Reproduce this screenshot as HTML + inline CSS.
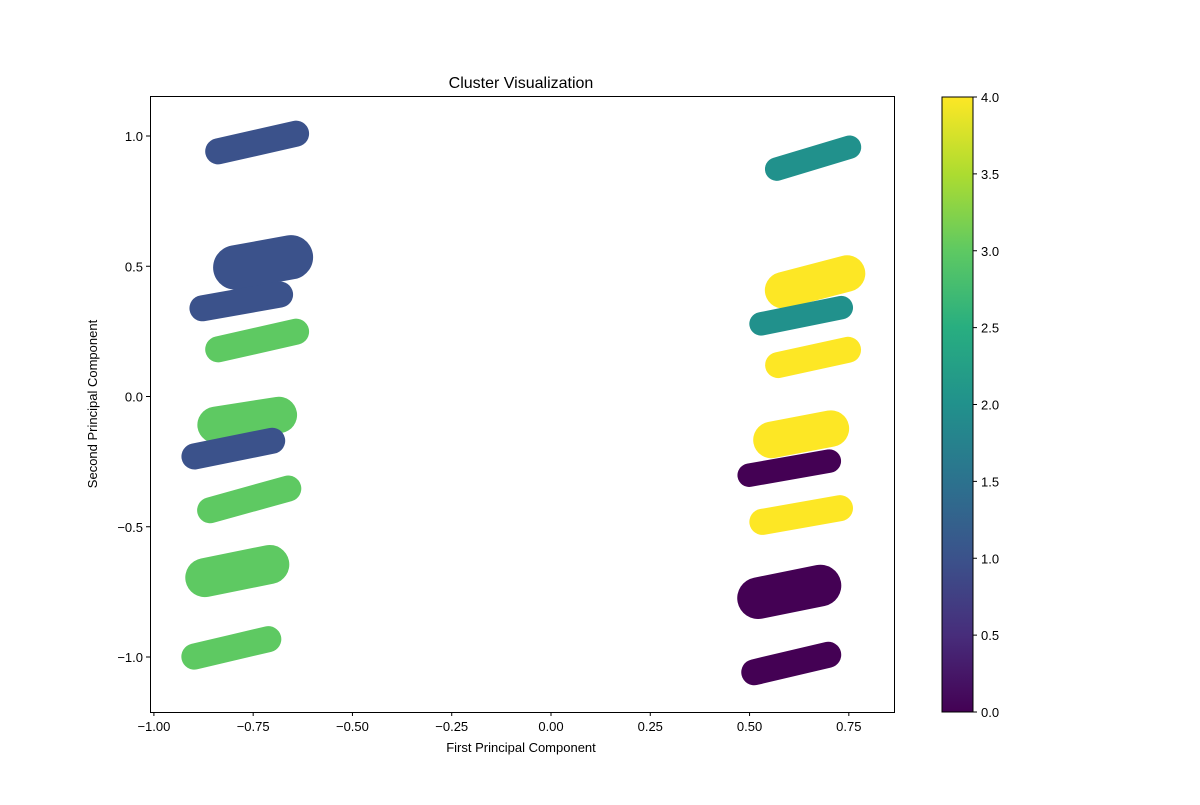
<!DOCTYPE html>
<html><head><meta charset="utf-8"><style>
body{margin:0;background:#fff;font-family:"Liberation Sans",sans-serif}
</style></head><body>
<svg id="chart" width="1200" height="800" xmlns="http://www.w3.org/2000/svg" font-family="Liberation Sans, sans-serif">
<defs><linearGradient id="vir" x1="0" y1="1" x2="0" y2="0">
<stop offset="0" stop-color="#440154"/><stop offset="0.125" stop-color="#472d7b"/><stop offset="0.25" stop-color="#3b528b"/><stop offset="0.375" stop-color="#2c728e"/><stop offset="0.5" stop-color="#21918c"/><stop offset="0.625" stop-color="#28ae80"/><stop offset="0.75" stop-color="#5ec962"/><stop offset="0.875" stop-color="#addc30"/><stop offset="1" stop-color="#fde725"/>
</linearGradient></defs>
<g id="marks"></g>
<rect x="150.5" y="96.5" width="744" height="616" fill="none" stroke="#000" stroke-width="1"/>
<g id="axes"></g>
<text x="521" y="88" font-size="16" text-anchor="middle">Cluster Visualization</text>
<text x="521" y="752" font-size="13" text-anchor="middle">First Principal Component</text>
<text x="97" y="404" font-size="13" text-anchor="middle" transform="rotate(-90 97 404)">Second Principal Component</text>
<rect x="942" y="97" width="31" height="615" fill="url(#vir)" stroke="#000" stroke-width="1"/>
<g id="cbticks"></g>
</svg>
<script>
const x1s=[-0.87,-0.85,-0.91,-0.87,-0.89,-0.93,-0.89,-0.92,-0.93, 0.54,0.54,0.50,0.54,0.51,0.47,0.50,0.47,0.48];
const y1s=[0.93,0.48,0.33,0.17,-0.12,-0.24,-0.45,-0.71,-1.01, 0.86,0.39,0.27,0.11,-0.18,-0.31,-0.49,-0.79,-1.07];
const x2s=[-0.61,-0.60,-0.65,-0.61,-0.64,-0.67,-0.63,-0.66,-0.68, 0.78,0.79,0.76,0.78,0.75,0.73,0.76,0.73,0.73];
const y2s=[1.02,0.55,0.40,0.26,-0.06,-0.16,-0.34,-0.63,-0.92, 0.97,0.49,0.35,0.19,-0.11,-0.24,-0.42,-0.71,-0.98];
const spread=[0.10,0.17,0.10,0.10,0.14,0.10,0.10,0.15,0.10, 0.09,0.14,0.09,0.10,0.14,0.09,0.10,0.16,0.10];
const labels=[1,1,1,3,3,1,3,3,3, 2,4,2,4,4,0,4,0,0];
const xTicks=[-1.00,-0.75,-0.50,-0.25,0.00,0.25,0.50,0.75];
const yTicks=[1.0,0.5,0.0,-0.5,-1.0];
const cbTicks=[0.0,0.5,1.0,1.5,2.0,2.5,3.0,3.5,4.0];
const colors=["#440154","#3b528b","#21918c","#5ec962","#fde725"];
const NS="http://www.w3.org/2000/svg";
const sx=v=>551+v*397.1, sy=v=>396.5-v*260.5, cy=v=>712-v*(615/4);
const marks=document.getElementById('marks');
for(let i=0;i<x1s.length;i++){
 const w=spread[i]*260.5;
 let ax1=sx(x1s[i]),ay1=sy(y1s[i]),ax2=sx(x2s[i]),ay2=sy(y2s[i]);
 const dx=ax2-ax1,dy=ay2-ay1,L=Math.hypot(dx,dy),r=w/2;
 ax1+=dx/L*r;ay1+=dy/L*r;ax2-=dx/L*r;ay2-=dy/L*r;
 const l=document.createElementNS(NS,'line');
 l.setAttribute('x1',ax1);l.setAttribute('y1',ay1);
 l.setAttribute('x2',ax2);l.setAttribute('y2',ay2);
 l.setAttribute('stroke',colors[labels[i]]);l.setAttribute('stroke-width',w);
 l.setAttribute('stroke-linecap','round');
 
 
 marks.appendChild(l);
}
const ax=document.getElementById('axes');
function add(tag,attrs,txt){const e=document.createElementNS(NS,tag);for(const k in attrs)e.setAttribute(k,attrs[k]);if(txt!==undefined)e.textContent=txt;return e;}
xTicks.forEach(v=>{
 const t=add('line',{x1:sx(v),x2:sx(v),y1:712,y2:716,stroke:'#000'});
 
 
 ax.appendChild(t);
 const s=add('text',{x:sx(v),y:731,'font-size':13,'text-anchor':'middle'},(v<0?'\u2212':'')+Math.abs(v).toFixed(2));
 
 
 ax.appendChild(s);
});
yTicks.forEach(v=>{
 const t=add('line',{x1:146,x2:150,y1:sy(v),y2:sy(v),stroke:'#000'});
 
 
 ax.appendChild(t);
 const s=add('text',{x:143,y:sy(v)+5,'font-size':13,'text-anchor':'end'},(v<0?'\u2212':'')+Math.abs(v).toFixed(1));
 
 
 ax.appendChild(s);
});
const cb=document.getElementById('cbticks');
cbTicks.forEach(v=>{
 const t=add('line',{x1:973,x2:977,y1:cy(v),y2:cy(v),stroke:'#000'});
 
 
 cb.appendChild(t);
 const s=add('text',{x:981,y:cy(v)+5,'font-size':13},v.toFixed(1));
 
 
 cb.appendChild(s);
});
</script>
</body></html>
